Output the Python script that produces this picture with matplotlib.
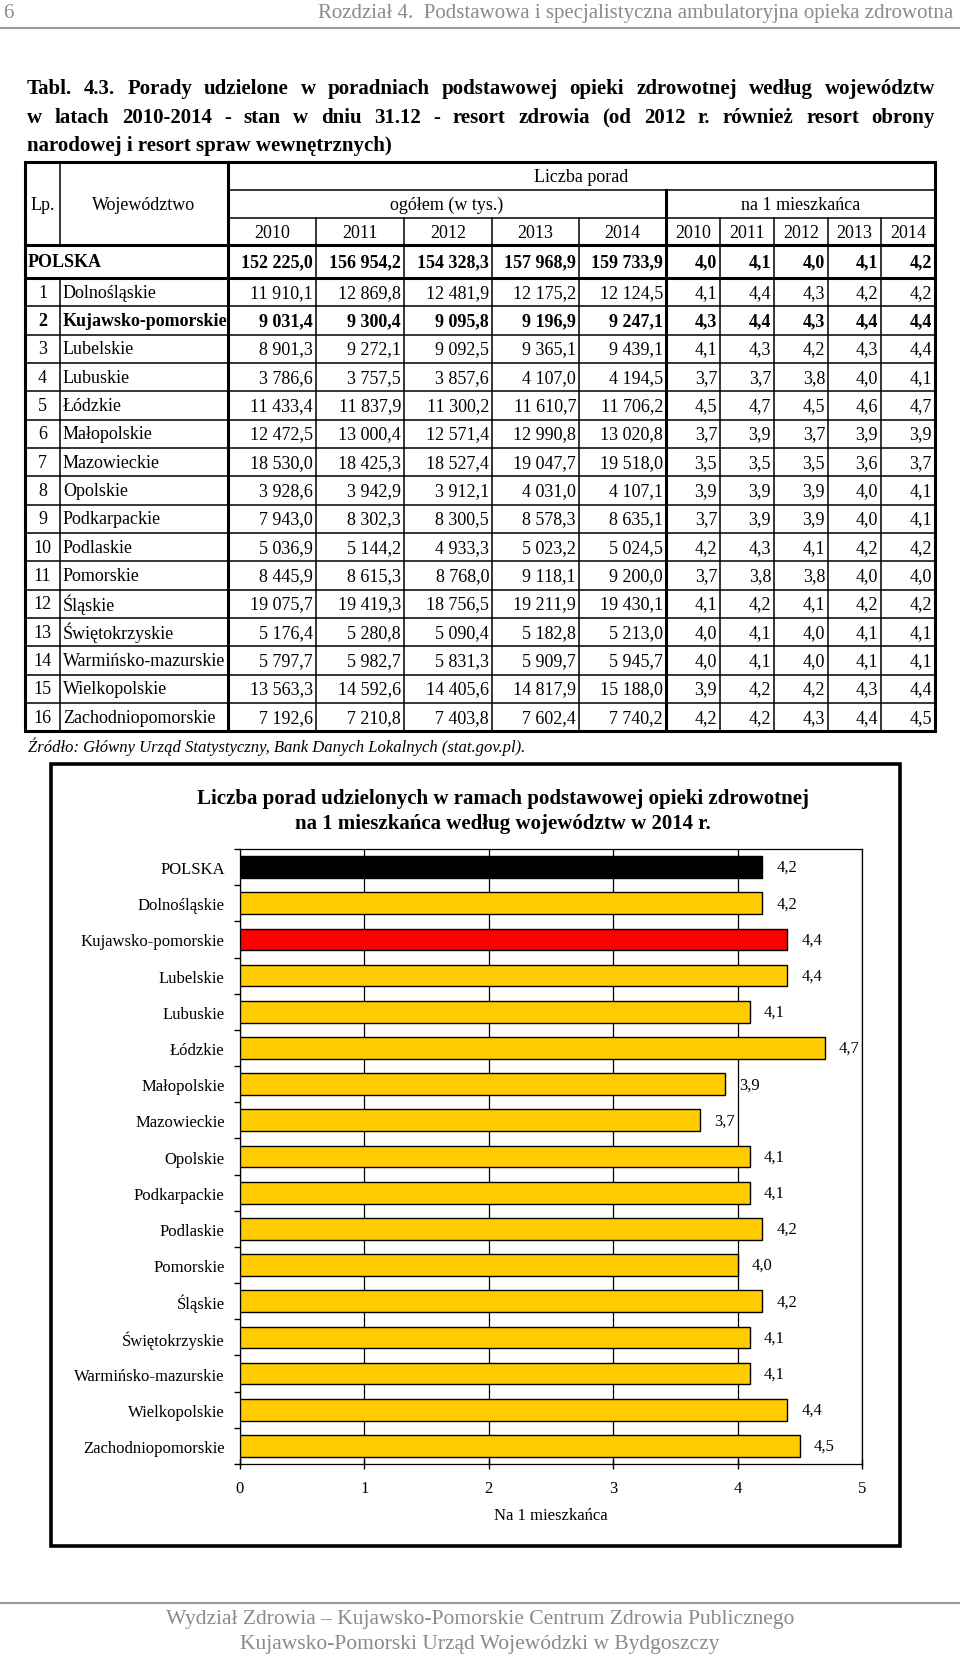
import matplotlib.pyplot as plt
from matplotlib.patches import Rectangle
import numpy as np

plt.rcParams['font.family'] = ['Liberation Serif', 'DejaVu Serif']

# --- data -------------------------------------------------------------
regions = ['Dolnośląskie', 'Kujawsko-pomorskie', 'Lubelskie', 'Lubuskie', 'Łódzkie',
           'Małopolskie', 'Mazowieckie', 'Opolskie', 'Podkarpackie', 'Podlaskie',
           'Pomorskie', 'Śląskie', 'Świętokrzyskie', 'Warmińsko-mazurskie',
           'Wielkopolskie', 'Zachodniopomorskie']
years = [2010, 2011, 2012, 2013, 2014]

polska_total = [152225.0, 156954.2, 154328.3, 157968.9, 159733.9]
polska_per_cap = [4.0, 4.1, 4.0, 4.1, 4.2]

total_2010 = [11910.1, 9031.4, 8901.3, 3786.6, 11433.4, 12472.5, 18530.0, 3928.6,
              7943.0, 5036.9, 8445.9, 19075.7, 5176.4, 5797.7, 13563.3, 7192.6]
total_2011 = [12869.8, 9300.4, 9272.1, 3757.5, 11837.9, 13000.4, 18425.3, 3942.9,
              8302.3, 5144.2, 8615.3, 19419.3, 5280.8, 5982.7, 14592.6, 7210.8]
total_2012 = [12481.9, 9095.8, 9092.5, 3857.6, 11300.2, 12571.4, 18527.4, 3912.1,
              8300.5, 4933.3, 8768.0, 18756.5, 5090.4, 5831.3, 14405.6, 7403.8]
total_2013 = [12175.2, 9196.9, 9365.1, 4107.0, 11610.7, 12990.8, 19047.7, 4031.0,
              8578.3, 5023.2, 9118.1, 19211.9, 5182.8, 5909.7, 14817.9, 7602.4]
total_2014 = [12124.5, 9247.1, 9439.1, 4194.5, 11706.2, 13020.8, 19518.0, 4107.1,
              8635.1, 5024.5, 9200.0, 19430.1, 5213.0, 5945.7, 15188.0, 7740.2]

per_cap_2010 = [4.1, 4.3, 4.1, 3.7, 4.5, 3.7, 3.5, 3.9, 3.7, 4.2, 3.7, 4.1, 4.0, 4.0, 3.9, 4.2]
per_cap_2011 = [4.4, 4.4, 4.3, 3.7, 4.7, 3.9, 3.5, 3.9, 3.9, 4.3, 3.8, 4.2, 4.1, 4.1, 4.2, 4.2]
per_cap_2012 = [4.3, 4.3, 4.2, 3.8, 4.5, 3.7, 3.5, 3.9, 3.9, 4.1, 3.8, 4.1, 4.0, 4.0, 4.2, 4.3]
per_cap_2013 = [4.2, 4.4, 4.3, 4.0, 4.6, 3.9, 3.6, 4.0, 4.0, 4.2, 4.0, 4.2, 4.1, 4.1, 4.3, 4.4]
per_cap_2014 = [4.2, 4.4, 4.4, 4.1, 4.7, 3.9, 3.7, 4.1, 4.1, 4.2, 4.0, 4.2, 4.1, 4.1, 4.4, 4.5]

highlight = 'Kujawsko-pomorskie'


def fmt_pl(v):
    return f"{v:,.1f}".replace(",", " ").replace(".", ",")


# --- page -------------------------------------------------------------
W, H = 960, 1658
fig = plt.figure(figsize=(W / 100, H / 100), dpi=100)
page = fig.add_axes([0, 0, 1, 1])
page.set_xlim(0, W)
page.set_ylim(H, 0)
page.axis('off')
rend = fig.canvas.get_renderer()

grey = '#8a8a8a'
page.text(3, 13, '6', fontsize=15, color=grey, va='center')
page.text(953, 13, 'Rozdział 4.  Podstawowa i specjalistyczna ambulatoryjna opieka zdrowotna',
          fontsize=15, color=grey, va='center', ha='right')
page.plot([0, W], [28.5, 28.5], color='#9a9a9a', lw=1.5)


def justified(text, y, x0, x1, **kw):
    words = text.split()
    arts = [page.text(0, y, w, va='center', **kw) for w in words]
    widths = [a.get_window_extent(rend).width for a in arts]
    gap = (x1 - x0 - sum(widths)) / (len(words) - 1)
    x = x0
    for a, w in zip(arts, widths):
        a.set_x(x)
        x += w + gap


title_kw = dict(fontsize=15, fontweight='bold')
justified('Tabl. 4.3.  Porady udzielone w poradniach podstawowej opieki zdrowotnej według województw',
          88.5, 27, 935, **title_kw)
justified('w latach 2010-2014 - stan w dniu 31.12 - resort zdrowia (od 2012 r. również resort obrony',
          117.5, 27, 935, **title_kw)
page.text(27, 145.5, 'narodowej i resort spraw wewnętrznych)', va='center', **title_kw)

# --- table ------------------------------------------------------------
col_x = [25, 60, 228, 316, 404, 492, 579, 666, 720, 774, 828, 881, 935]
hdr_y = [162.7, 191, 219.3, 246, 279]
row_h = 28.33
bottom = hdr_y[-1] + row_h * len(regions)
thin, thick = 1.1, 2.2

page.add_patch(Rectangle((col_x[0], hdr_y[0]), col_x[-1] - col_x[0], bottom - hdr_y[0],
                         fill=False, lw=thick, ec='black'))
page.plot([col_x[2]] * 2, [hdr_y[0], bottom], color='black', lw=thick)
page.plot([col_x[7]] * 2, [hdr_y[1], bottom], color='black', lw=thick)
page.plot([col_x[1]] * 2, [hdr_y[0], hdr_y[3]], color='black', lw=thin)
page.plot([col_x[1]] * 2, [hdr_y[4], bottom], color='black', lw=thin)
for cx in col_x[3:7] + col_x[8:12]:
    page.plot([cx, cx], [hdr_y[2], bottom], color='black', lw=thin)
for hy in hdr_y[1:3]:
    page.plot([col_x[2], col_x[-1]], [hy, hy], color='black', lw=thin)
for hy in hdr_y[3:5]:
    page.plot([col_x[0], col_x[-1]], [hy, hy], color='black', lw=thick)
for k in range(1, len(regions)):
    yy = hdr_y[4] + k * row_h
    page.plot([col_x[0], col_x[-1]], [yy, yy], color='black', lw=thin)

fs = 13
page.text((col_x[2] + col_x[-1]) / 2, 177, 'Liczba porad', fontsize=fs, ha='center', va='center')
page.text((col_x[0] + col_x[1]) / 2, 205, 'Lp.', fontsize=fs, ha='center', va='center')
page.text((col_x[1] + col_x[2]) / 2, 205, 'Województwo', fontsize=fs, ha='center', va='center')
page.text((col_x[2] + col_x[7]) / 2, 205, 'ogółem (w tys.)', fontsize=fs, ha='center', va='center')
page.text((col_x[7] + col_x[-1]) / 2, 205, 'na 1 mieszkańca', fontsize=fs, ha='center', va='center')
for j, yr in enumerate(years):
    page.text((col_x[2 + j] + col_x[3 + j]) / 2, 233, str(yr), fontsize=fs, ha='center', va='center')
    page.text((col_x[7 + j] + col_x[8 + j]) / 2, 233, str(yr), fontsize=fs, ha='center', va='center')

ypol = (hdr_y[3] + hdr_y[4]) / 2
page.text(28, ypol, 'POLSKA', fontsize=fs, fontweight='bold', va='center')
for j in range(5):
    page.text(col_x[3 + j] - 3, ypol, fmt_pl(polska_total[j]), fontsize=fs,
              fontweight='bold', ha='right', va='center')
    page.text(col_x[8 + j] - 3, ypol, fmt_pl(polska_per_cap[j]), fontsize=fs,
              fontweight='bold', ha='right', va='center')

totals = [total_2010, total_2011, total_2012, total_2013, total_2014]
per_caps = [per_cap_2010, per_cap_2011, per_cap_2012, per_cap_2013, per_cap_2014]
for i, name in enumerate(regions):
    yc = hdr_y[4] + (i + 0.5) * row_h
    fw = 'bold' if name == highlight else 'normal'
    page.text((col_x[0] + col_x[1]) / 2, yc, str(i + 1), fontsize=fs, fontweight=fw,
              ha='center', va='center')
    page.text(col_x[1] + 3, yc, name, fontsize=fs, fontweight=fw, va='center')
    for j in range(5):
        page.text(col_x[3 + j] - 3, yc, fmt_pl(totals[j][i]), fontsize=fs, fontweight=fw,
                  ha='right', va='center')
        page.text(col_x[8 + j] - 3, yc, fmt_pl(per_caps[j][i]), fontsize=fs, fontweight=fw,
                  ha='right', va='center')

page.text(28, 747, 'Źródło: Główny Urząd Statystyczny, Bank Danych Lokalnych (stat.gov.pl).',
          fontsize=12, style='italic', va='center')

# --- chart ------------------------------------------------------------
page.add_patch(Rectangle((51, 765), 849, 782, fill=False, lw=2.6, ec='black'))
page.text(503, 799, 'Liczba porad udzielonych w ramach podstawowej opieki zdrowotnej',
          fontsize=15, fontweight='bold', ha='center', va='center')
page.text(503, 824, 'na 1 mieszkańca według województw w 2014 r.',
          fontsize=15, fontweight='bold', ha='center', va='center')

labels = ['POLSKA'] + regions
values = [polska_per_cap[-1]] + per_cap_2014
colors = ['black' if l == 'POLSKA' else '#ff0000' if l == highlight else '#ffcc00'
          for l in labels]

ax = fig.add_axes([240 / W, 1 - 1465 / H, 622 / W, 615 / H])
pos = np.arange(len(labels))
bars = ax.barh(pos, values, height=0.6, color=colors, edgecolor='black', lw=1, zorder=3)
ax.bar_label(bars, labels=[fmt_pl(v) for v in values], padding=10, fontsize=12)
ax.set_xlim(0, 5)
ax.set_ylim(len(labels) - 0.5, -0.5)
ax.set_yticks(pos)
ax.set_yticklabels(labels, fontsize=12)
ax.set_yticks(np.arange(len(labels) + 1) - 0.5, minor=True)
ax.tick_params(axis='y', which='major', length=0, pad=11)
ax.tick_params(axis='y', which='minor', length=4, direction='out', width=1)
ax.set_xticks(range(6))
ax.tick_params(axis='x', labelsize=12, length=7, direction='inout', width=1, pad=8)
ax.grid(axis='x', color='black', lw=0.9, zorder=0)
ax.set_xlabel('Na 1 mieszkańca', fontsize=12, labelpad=8)
for s in ax.spines.values():
    s.set_linewidth(0.9)

# --- footer -----------------------------------------------------------
page.plot([0, W], [1604, 1604], color='#9a9a9a', lw=1.5)
page.text(480, 1620, 'Wydział Zdrowia – Kujawsko-Pomorskie Centrum Zdrowia Publicznego',
          fontsize=15.5, color=grey, ha='center', va='center')
page.text(480, 1645, 'Kujawsko-Pomorski Urząd Wojewódzki w Bydgoszczy',
          fontsize=15.5, color=grey, ha='center', va='center')

fig.savefig('out.png', dpi=100)
